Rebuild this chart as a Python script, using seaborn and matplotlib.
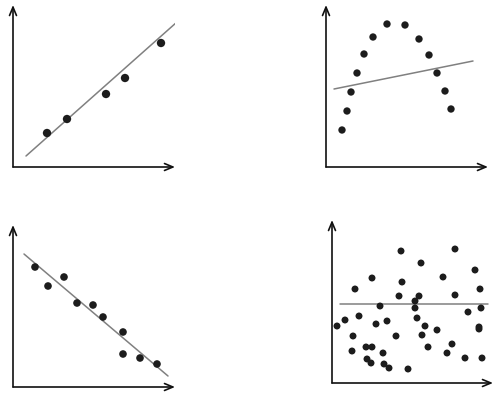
import matplotlib
matplotlib.use("Agg")
import matplotlib.pyplot as plt
import seaborn as sns
import pandas as pd

sns.set_style("white")

# Panel A: strong positive
a_x = [34, 54, 93, 112, 148]
a_y = [34, 48, 73, 89, 124]
a_line_x = [13, 173]
a_line_y = [11, 153]

# Panel B: inverted U
b_x = [16, 21, 25, 31, 38, 47, 61, 79, 93, 103, 111, 119, 125]
b_y = [37, 56, 75, 94, 113, 130, 143, 142, 128, 112, 94, 76, 58]
b_line_x = [8, 147]
b_line_y = [78, 106]

# Panel C: negative
c_x = [22, 35, 51, 64, 80, 90, 110, 110, 127, 144]
c_y = [120, 101, 110, 84, 82, 70, 55, 33, 29, 23]
c_line_x = [11, 155]
c_line_y = [133, 11]

# Panel D: no correlation
d_x = [69, 123, 89, 143, 40, 70, 111, 23, 148, 67, 87, 123, 83, 48, 83, 149, 136,
       13, 27, 85, 55, 44, 5, 93, 147, 105, 147, 21, 64, 90, 34, 40, 96, 120, 20,
       51, 115, 133, 150, 35, 39, 52, 57, 76]
d_y = [132, 134, 120, 113, 105, 101, 106, 94, 94, 87, 87, 88, 82, 77, 75, 75, 71,
       63, 67, 65, 62, 59, 57, 57, 56, 53, 54, 47, 47, 48, 36, 36, 36, 39, 32,
       30, 30, 25, 25, 24, 20, 19, 15, 14]
d_line_x = [8, 156]
d_line_y = [79, 79]

W, H = 501, 394
fig = plt.figure(figsize=(W / 100, H / 100), dpi=100)

panels = [
    # (origin_x, origin_y, width, height, xs, ys, lx, ly, size)
    (13, 167, 162, 162, a_x, a_y, a_line_x, a_line_y, 36),
    (326, 167, 162, 162, b_x, b_y, b_line_x, b_line_y, 28),
    (13, 387, 162, 162, c_x, c_y, c_line_x, c_line_y, 30),
    (332, 383, 161, 163, d_x, d_y, d_line_x, d_line_y, 25),
]

for ox, oy, w, h, xs, ys, lx, ly, s in panels:
    ax = fig.add_axes([ox / W, (H - oy) / H, w / W, h / H])
    ax.set_xlim(0, w)
    ax.set_ylim(0, h)
    ax.patch.set_alpha(0)
    for sp in ax.spines.values():
        sp.set_visible(False)
    ax.set_xticks([])
    ax.set_yticks([])
    sns.lineplot(x=lx, y=ly, ax=ax, color="#808080", linewidth=1.1, zorder=2)
    sns.scatterplot(x=xs, y=ys, ax=ax, color="#1c1c1c", s=s, edgecolor="none", zorder=3)
    arrow = dict(arrowstyle="->,head_length=0.6,head_width=0.25", color="#111111", lw=1.2,
                 shrinkA=0, shrinkB=0)
    ax.annotate("", xy=(1, 0), xytext=(0, 0), xycoords="axes fraction",
                textcoords="axes fraction", arrowprops=arrow, annotation_clip=False)
    ax.annotate("", xy=(0, 1), xytext=(0, 0), xycoords="axes fraction",
                textcoords="axes fraction", arrowprops=arrow, annotation_clip=False)
    ax.set_xlabel("")
    ax.set_ylabel("")

fig.savefig("out.png", dpi=100)
